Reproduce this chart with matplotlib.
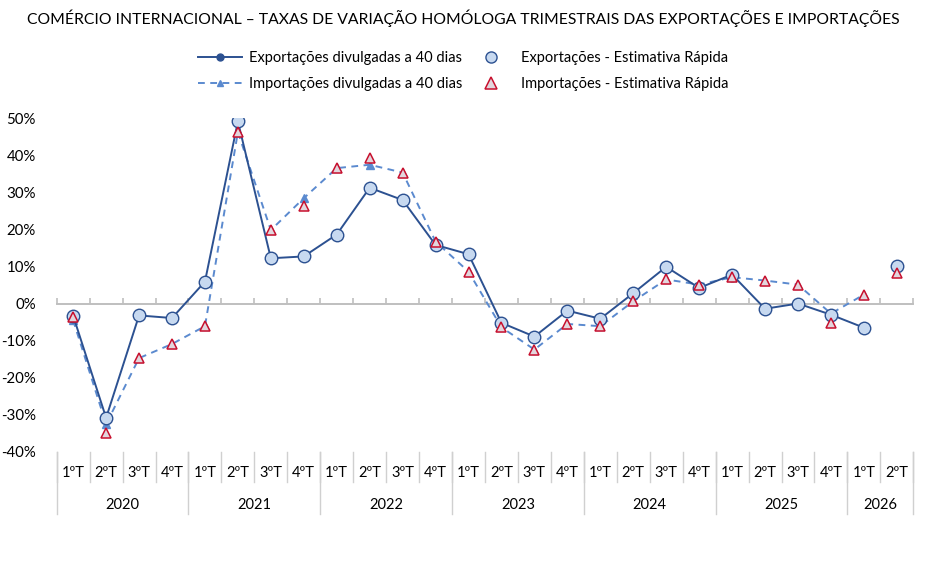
import matplotlib
matplotlib.use("Agg")
import matplotlib.pyplot as plt
import matplotlib.transforms as mtransforms
from matplotlib.lines import Line2D
import numpy as np

plt.rcParams['font.family'] = ['Lato', 'DejaVu Sans']

quarters = ['1ºT', '2ºT', '3ºT', '4ºT'] * 6 + ['1ºT', '2ºT']
years = ['2020', '2021', '2022', '2023', '2024', '2025', '2026']
quarters_per_year = [4, 4, 4, 4, 4, 4, 2]

exp_40 = [-3.3, -30.8, -3.2, -3.9, 5.9, 49.1, 12.2, 12.7, 18.6, 31.2, 27.9, 15.8,
          13.3, -5.2, -8.9, -1.9, -4.1, 2.8, 9.9, 4.2, 7.8, -1.4, 0.0, -3.0, -6.5, np.nan]
exp_er = [-3.3, -30.8, -3.2, -3.9, 5.9, 49.1, 12.2, 12.7, 18.6, 31.2, 27.9, 15.8,
          13.3, -5.2, -8.9, -1.9, -4.1, 2.8, 9.9, 4.2, 7.8, -1.4, 0.0, -3.0, -6.5, 10.1]
imp_40 = [-4.5, -32.5, -14.7, -10.9, -6.1, 46.2, 19.8, 28.4, 36.5, 37.4, 35.3, 16.7,
          8.6, -6.4, -12.4, -5.5, -6.1, 0.6, 6.5, 5.1, 7.1, 6.2, 5.1, -2.7, 2.4, np.nan]
imp_er = [-3.5, -35.0, -14.7, -10.9, -6.1, 46.2, 19.8, 26.4, 36.5, 39.2, 35.3, 16.7,
          8.6, -6.4, -12.4, -5.5, -6.1, 0.6, 6.5, 5.1, 7.1, 6.2, 5.1, -5.3, 2.4, 8.1]

title = "COMÉRCIO INTERNACIONAL – TAXAS DE VARIAÇÃO HOMÓLOGA TRIMESTRAIS DAS EXPORTAÇÕES E IMPORTAÇÕES"

C_EXP = '#2C5191'
C_IMP = '#5B8ACF'
C_FILL = '#C7D9F0'
C_RED = '#C8102E'
C_TRI_FILL = '#E2D6DD'
C_GRID = '#BFBFBF'
C_SEP = '#D0D0D0'
C_TXT = '#000000'

fig = plt.figure(figsize=(9.37, 5.72), dpi=100)
ax = fig.add_axes([0.0605, 0.2098, 0.9142, 0.5839])

x = np.arange(len(quarters))
e40 = np.array(exp_40) / 100
eer = np.array(exp_er) / 100
i40 = np.array(imp_40) / 100
ier = np.array(imp_er) / 100

ax.plot(x, i40, color=C_IMP, lw=1.4, ls=(0, (3.5, 2.8)), marker='^', ms=6,
        mfc=C_IMP, mec=C_IMP, zorder=3)
ax.plot(x, e40, color=C_EXP, lw=1.4, marker='o', ms=4, mfc=C_EXP, mec=C_EXP, zorder=4)
ax.plot(x, eer, ls='none', marker='o', ms=9, mfc=C_FILL, mec=C_EXP, mew=1.0, zorder=5)
ax.plot(x, ier, ls='none', marker='^', ms=7.8, mfc=C_TRI_FILL, mec=C_RED, mew=1.1, zorder=6)

ax.set_xlim(-0.5, len(quarters) - 0.5)
ax.set_ylim(-0.40, 0.50)
ax.set_yticks(np.arange(-0.4, 0.51, 0.1))
ax.set_yticklabels([f"{int(round(v*100))}%" for v in np.arange(-0.4, 0.51, 0.1)],
                   fontsize=10.8, color=C_TXT)
ax.tick_params(axis='y', length=0, pad=15)

for s in ['top', 'right', 'left']:
    ax.spines[s].set_visible(False)
ax.spines['bottom'].set_position(('data', 0))
ax.spines['bottom'].set_color(C_GRID)
ax.spines['bottom'].set_linewidth(1.4)
ax.set_xticks(np.arange(-0.5, len(quarters), 1.0))
ax.tick_params(axis='x', direction='in', length=4, width=1.2, color=C_GRID, labelbottom=False)

# hierarchical category labels below plot
trans = mtransforms.blended_transform_factory(ax.transData, ax.transAxes)
ah = 334.0  # axes height px
q_sep = 30 / ah
y_sep = 62 / ah
for k in range(len(quarters) + 1):
    ax.plot([k - 0.5, k - 0.5], [0, -q_sep], transform=trans, color=C_SEP, lw=1.0, clip_on=False)
for i, q in enumerate(quarters):
    ax.text(i, -21 / ah, q, transform=trans, ha='center', va='center', fontsize=10.5, color=C_TXT)
start = 0
for yr, n in zip(years, quarters_per_year):
    ax.plot([start - 0.5, start - 0.5], [0, -y_sep], transform=trans, color=C_SEP, lw=1.0, clip_on=False)
    ax.text(start + (n - 1) / 2, -53 / ah, yr, transform=trans, ha='center', va='center',
            fontsize=10.5, color=C_TXT)
    start += n
ax.plot([start - 0.5, start - 0.5], [0, -y_sep], transform=trans, color=C_SEP, lw=1.0, clip_on=False)

fig.text(0.494, 1 - 18 / 572, title, ha='center', va='center', fontsize=11.3, color=C_TXT)

handles = [
    Line2D([], [], color=C_EXP, lw=1.4, marker='o', ms=5, mfc=C_EXP, mec=C_EXP),
    Line2D([], [], color=C_IMP, lw=1.4, ls=(0, (3.5, 2.8)), marker='^', ms=5, mfc=C_IMP, mec=C_IMP),
    Line2D([], [], ls='none', marker='o', ms=8, mfc=C_FILL, mec=C_EXP, mew=1.0),
    Line2D([], [], ls='none', marker='^', ms=8, mfc=C_TRI_FILL, mec=C_RED, mew=1.1),
]
labels = ['Exportações divulgadas a 40 dias', 'Importações divulgadas a 40 dias',
          'Exportações - Estimativa Rápida', 'Importações - Estimativa Rápida']
fig.legend(handles, labels, ncol=2, loc='center', bbox_to_anchor=(0.494, 1 - 71 / 572),
           frameon=False, fontsize=10.5, handlelength=3.0, handletextpad=0.5,
           columnspacing=0.5, labelspacing=0.85, labelcolor=C_TXT)

fig.savefig('out.png', dpi=100)
